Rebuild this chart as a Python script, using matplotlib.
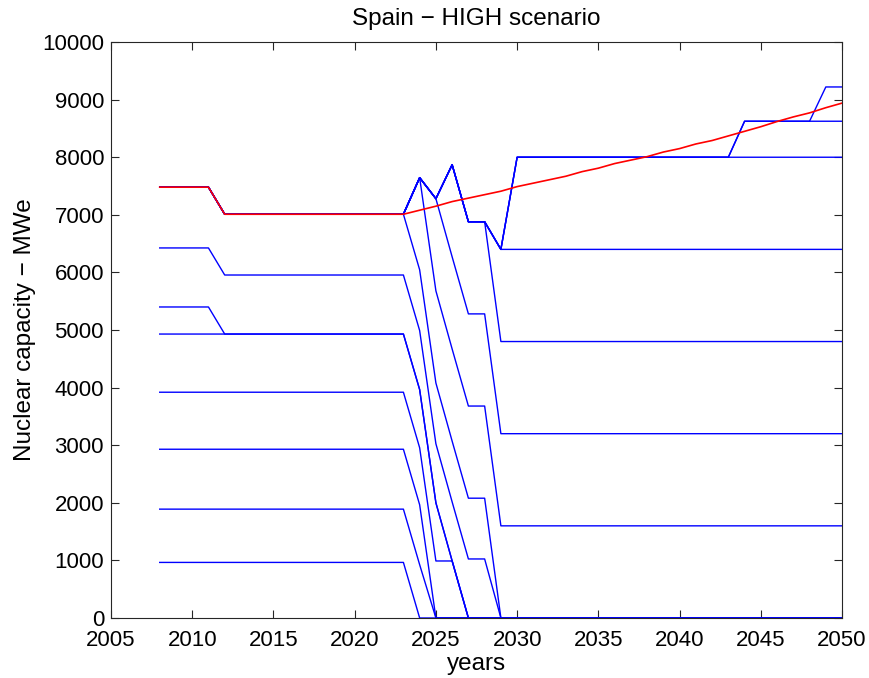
import numpy as np
import matplotlib
matplotlib.use('Agg')
import matplotlib.pyplot as plt

plt.rcParams['font.family'] = ['Liberation Sans', 'DejaVu Sans']

# years shown
years = np.arange(2008, 2051)

# existing reactors (MWe) stacked from the bottom, and first year they are gone
old_cap = [965, 925, 1040, 990, 1010, 470, 1025, 1055]
old_retire = [2024, 2025, 2025, 2027, 2026, 2012, 2029, 2029]

# new builds (MWe) stacked on top, and first year in service
new_cap = [1600, 1600, 1600, 1600, 1600, 625, 595]
new_start = [2024, 2025, 2026, 2029, 2030, 2044, 2049]

# demand curve (red)
demand_years = list(range(2008, 2051))
demand = [7480, 7480, 7480, 7480, 7010, 7010, 7010, 7010, 7010, 7010,
          7010, 7010, 7010, 7010, 7010, 7010, 7080, 7150, 7230, 7290,
          7350, 7410, 7490, 7550, 7610, 7670, 7750, 7810, 7890, 7950,
          8010, 8090, 8150, 8230, 8290, 8370, 8450, 8530, 8620, 8700,
          8770, 8860, 8940]

# capacity of each plant per year
rows = []
for c, r in zip(old_cap, old_retire):
    rows.append(np.where(years < r, c, 0))
for c, s in zip(new_cap, new_start):
    rows.append(np.where(years >= s, c, 0))
stack = np.cumsum(np.array(rows), axis=0)

fig = plt.figure(figsize=(8.69, 6.78), dpi=100)
ax = fig.add_axes([0.1277, 0.0885, 0.8413, 0.8495])

for line in stack:
    ax.plot(years, line, '-', color='#0000ff', lw=1.0)
ax.plot(demand_years, demand, '-', color='#ff0000', lw=1.2)

ax.set_xlim(2005, 2050)
ax.set_ylim(0, 10000)
ax.set_xticks(np.arange(2005, 2051, 5))
ax.set_yticks(np.arange(0, 10001, 1000))
ax.tick_params(direction='in', length=6, width=0.8, top=True, right=True,
               labelsize=16, colors='#262626', labelcolor='black')
ax.tick_params(axis='x', pad=9)
ax.tick_params(axis='y', pad=5)
for s in ax.spines.values():
    s.set_linewidth(0.8)
    s.set_color('#262626')

ax.set_title('Spain \u2212 HIGH scenario', fontsize=17.5, pad=12)
ax.set_xlabel('years', fontsize=17.5, labelpad=1)
ax.set_ylabel('Nuclear capacity \u2212 MWe', fontsize=17.5, labelpad=4)

fig.savefig('out.png', dpi=100)
